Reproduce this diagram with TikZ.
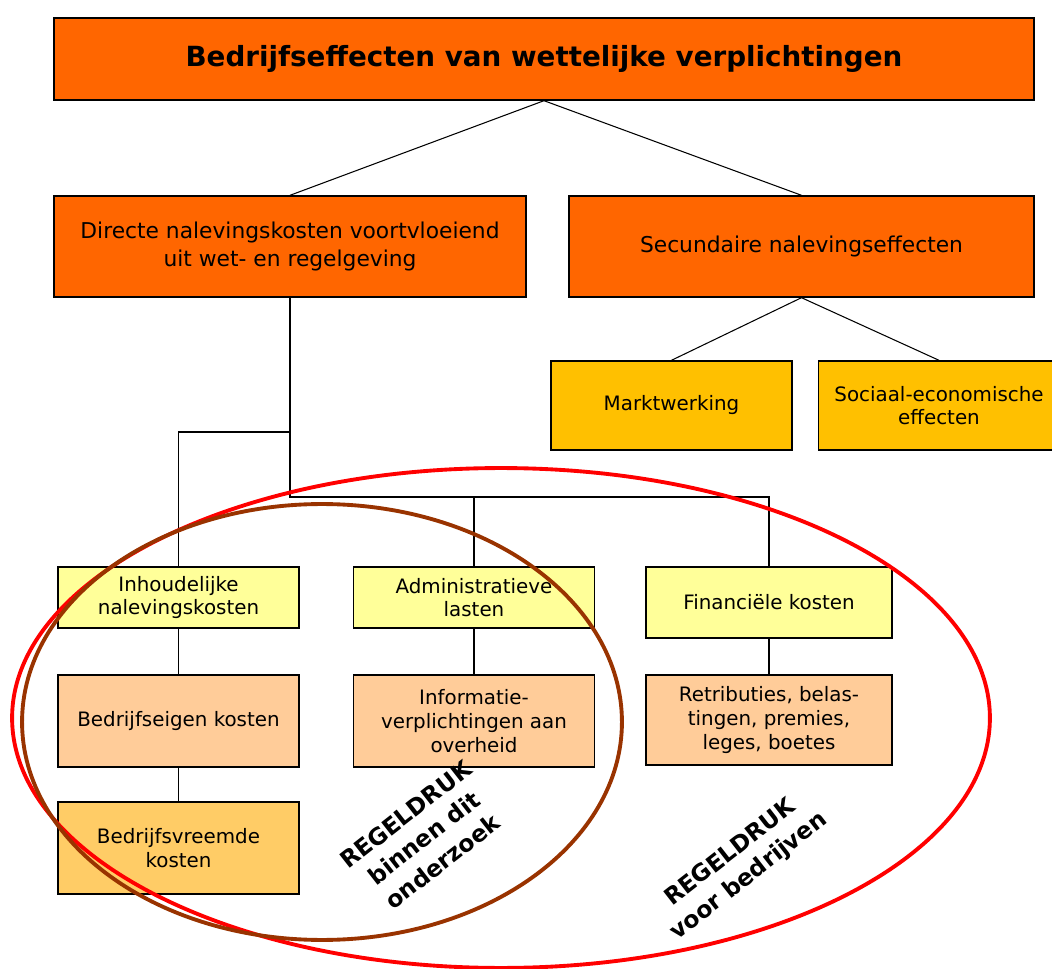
\documentclass[tikz,border=0pt]{standalone}
\usepackage{fontspec}
\setmainfont{DejaVu Sans}
\usetikzlibrary{positioning,shapes.geometric}
\definecolor{oranje}{HTML}{FF6600}
\definecolor{goud}{HTML}{FFC000}
\definecolor{lichtgeel}{HTML}{FFFF99}
\definecolor{perzik}{HTML}{FFCC99}
\definecolor{zand}{HTML}{FFCC66}
\definecolor{bruin}{HTML}{993300}
\begin{document}
\begin{tikzpicture}[x=0.02cm,y=-0.02cm,
  box/.style={draw=black,line width=0.8pt,align=center,inner sep=2pt,font=\fontsize{11.3}{13.5}\selectfont},
  hoofd/.style={box,fill=oranje,minimum height=2.02cm,font=\fontsize{12.4}{15.5}\selectfont},
  sec/.style={box,fill=goud,minimum width=4.82cm,minimum height=1.78cm},
  soort/.style={box,fill=lichtgeel,minimum width=4.82cm,minimum height=1.22cm},
  kost/.style={box,fill=perzik,minimum width=4.82cm,minimum height=1.84cm},
  lijn/.style={line width=0.6pt},
  ring/.style={ellipse,draw,line width=2.2pt,inner sep=0pt},
  stempel/.style={rotate=38,align=center,font=\fontsize{13.3}{17}\selectfont\bfseries}]
  \useasboundingbox (0,0) rectangle (1052,969);

  \node[box,fill=oranje,minimum width=19.6cm,minimum height=1.64cm,font=\fontsize{15.8}{18}\selectfont\bfseries] (top) at (544,59) {Bedrijfseffecten van wettelijke verplichtingen};

  \node[hoofd,minimum width=9.44cm] (dir) at (290,246.5) {Directe nalevingskosten voortvloeiend\\uit wet- en regelgeving};
  \node[hoofd,minimum width=9.3cm] (secu) at (801.5,246.5) {Secundaire nalevingseffecten};

  \node[sec] (markt) at (671.5,405.5) {Marktwerking};
  \node[sec] (soc) at (939,405.5) {Sociaal-economische\\effecten};

  \node[soort] (inh) at (178.5,597.5) {Inhoudelijke\\nalevingskosten};
  \node[soort] (adm) at (474,597.5) {Administratieve\\lasten};
  \node[soort,minimum width=4.92cm,minimum height=1.42cm] (fin) at (769,602.5) {Financiële kosten};

  \node[kost] (eigen) at (178.5,721) {Bedrijfseigen kosten};
  \node[kost] (info) at (474,721) {Informatie-\\verplichtingen aan\\overheid};
  \node[kost,minimum width=4.92cm,minimum height=1.8cm] (retr) at (769,720) {Retributies, belas-\\tingen, premies,\\leges, boetes};
  \node[kost,fill=zand] (vreemd) at (178.5,848) {Bedrijfsvreemde\\kosten};

  \coordinate (knik) at (290,432);
  \coordinate (tak) at (290,497);

  \draw[lijn] (top.south) -- (dir.north);
  \draw[lijn] (top.south) -- (secu.north);
  \draw[lijn] (secu.south) -- (markt.north);
  \draw[lijn] (secu.south) -- (soc.north);
  \draw[lijn] (dir.south) -- (tak) -| (fin.north);
  \draw[lijn] (knik) -| (inh.north);
  \draw[lijn] (adm.north) -- (adm.north |- tak);
  \draw[lijn] (inh.south) -- (eigen.north);
  \draw[lijn] (eigen.south) -- (vreemd.north);
  \draw[lijn] (adm.south) -- (info.north);
  \draw[lijn] (fin.south) -- (retr.north);

  \node[ring,draw=red,minimum width=19.56cm,minimum height=10cm] (bedrijven) at (501,718) {};
  \node[ring,draw=bruin,minimum width=12cm,minimum height=8.72cm] (onderzoek) at (322,722) {};

  \node[stempel] (binnen) at (424,838) {REGELDRUK\\binnen dit\\onderzoek};
  \node[stempel] (voor) at (740,865) {REGELDRUK\\voor bedrijven};
\end{tikzpicture}
\end{document}
